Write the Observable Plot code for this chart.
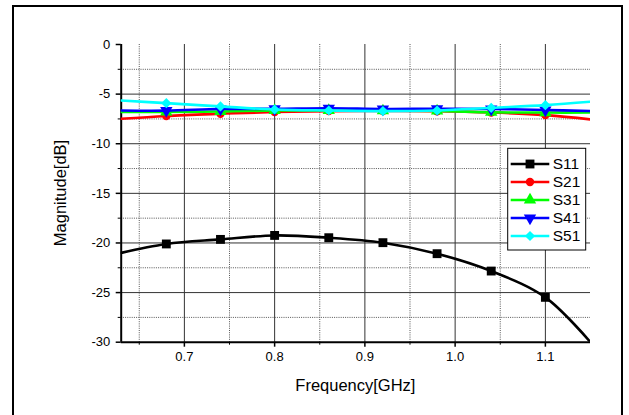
<!DOCTYPE html>
<html>
<head>
<meta charset="utf-8">
<script src="https://cdn.jsdelivr.net/npm/d3@7"></script>
<script src="https://cdn.jsdelivr.net/npm/@observablehq/plot@0.6"></script>
<style>
  html, body { margin: 0; padding: 0; background: #fff; }
  body { width: 629px; height: 415px; overflow: hidden; position: relative; font-family: "Liberation Sans", Arial, sans-serif; }
  #chart { position: absolute; left: 0; top: 0; }
  #frame { position: absolute; left: 12px; top: 5px; width: 611px; height: 420px; border: 2px solid #000; box-sizing: border-box; pointer-events: none; }
  #overlay { position: absolute; left: 0; top: 0; pointer-events: none; }
</style>
</head>
<body>
<div id="chart"></div>
<svg id="overlay" width="629" height="415"></svg>
<div id="frame"></div>
<script>
// ---- data ----
const seriesNames = ["S11", "S21", "S31", "S41", "S51"];
const seriesColors = ["#000000", "#ff0000", "#00ff00", "#0000ff", "#00ffff"];
const markerFreqs = [0.68, 0.74, 0.80, 0.86, 0.92, 0.98, 1.04, 1.10];
const lineFreqs = [0.63, 0.68, 0.74, 0.80, 0.86, 0.92, 0.98, 1.04, 1.10, 1.15];
const S11 = [-21.0, -20.1, -19.64, -19.24, -19.47, -19.97, -21.08, -22.83, -25.48, -30.0];
const S21 = [-7.49, -7.2, -6.98, -6.8, -6.71, -6.7, -6.72, -6.85, -7.12, -7.55];
const S31 = [-6.8, -6.8, -6.75, -6.65, -6.65, -6.68, -6.7, -6.83, -6.86, -6.86];
const S41 = [-6.65, -6.66, -6.5, -6.48, -6.42, -6.5, -6.48, -6.5, -6.6, -6.7];
const S51 = [-5.64, -5.91, -6.24, -6.55, -6.65, -6.71, -6.65, -6.38, -6.11, -5.77];
const xDomain = [0.63, 1.15];
const yDomain = [-30, 0];
const majorX = [0.7, 0.8, 0.9, 1.0, 1.1];
const minorX = [0.65, 0.75, 0.85, 0.95, 1.05];
const majorY = [0, -5, -10, -15, -20, -25, -30];
const majorYGrid = [-5, -10, -15, -20, -25];
const minorY = [-2.5, -7.5, -12.5, -17.5, -22.5, -27.5];
const xTitle = "Frequency[GHz]";
const yTitle = "Magnitude[dB]";

// ---- build table ----
const seriesVals = [S11, S21, S31, S41, S51];
const rows = [];
seriesNames.forEach((name, i) => {
  lineFreqs.forEach((f, j) => rows.push({series: name, f, v: seriesVals[i][j]}));
});
const isMarker = d => markerFreqs.some(m => Math.abs(m - d.f) < 1e-9);
const symbols = {S11: "square", S21: "circle", S31: "triangle", S41: "triangle", S51: "diamond2"};
const radii = {S11: 5.0, S21: 4.2, S31: 4.6, S41: 4.6, S51: 4.6};
const rotations = {S11: 0, S21: 0, S31: 0, S41: 180, S51: 0};

const marks = [
  Plot.ruleX(minorX, {stroke: "#555", strokeDasharray: "1,1.2", strokeWidth: 1}),
  Plot.ruleY(minorY, {stroke: "#555", strokeDasharray: "1,1.2", strokeWidth: 1}),
  Plot.ruleX(majorX, {stroke: "#333", strokeWidth: 1}),
  Plot.ruleY(majorYGrid, {stroke: "#333", strokeWidth: 1}),
  Plot.axisX(majorX, {tickSize: 5, tickPadding: 5, tickFormat: d3.format(".1f"), label: null, fontSize: 13, strokeWidth: 1.5}),
  Plot.axisX(minorX, {tickSize: 3, tickFormat: () => "", label: null, strokeWidth: 1}),
  Plot.axisY(majorY, {tickSize: 5, tickPadding: 6, tickFormat: d => String(d), label: null, fontSize: 13, strokeWidth: 1.5}),
  Plot.axisY(minorY, {tickSize: 3, tickFormat: () => "", label: null, strokeWidth: 1}),
  Plot.ruleX([xDomain[0]], {stroke: "#000", strokeWidth: 2}),
  Plot.ruleY([yDomain[0]], {stroke: "#000", strokeWidth: 2})
];
seriesNames.forEach((name, i) => {
  const data = rows.filter(d => d.series === name);
  marks.push(Plot.line(data, {x: "f", y: "v", stroke: seriesColors[i], strokeWidth: 2.6, curve: "catmull-rom", clip: true}));
  marks.push(Plot.dot(data.filter(isMarker), {x: "f", y: "v", fill: seriesColors[i], stroke: "none",
    symbol: symbols[name], r: radii[name], rotate: rotations[name]}));
});

const chart = Plot.plot({
  width: 629, height: 415,
  marginLeft: 120.7, marginTop: 44, marginRight: 39, marginBottom: 73.3,
  x: {domain: xDomain, label: null},
  y: {domain: yDomain, label: null},
  style: {fontFamily: '"Liberation Sans", Arial, sans-serif', fontSize: "13px", background: "transparent", color: "#000"},
  marks
});
document.getElementById("chart").appendChild(chart);

// ---- titles and legend overlay ----
const ov = d3.select("#overlay");
const font = '"Liberation Sans", Arial, sans-serif';
ov.append("text").attr("x", 355.4).attr("y", 391).attr("text-anchor", "middle")
  .attr("font-family", font).attr("font-size", 16.5).attr("fill", "#000").text(xTitle);
ov.append("text").attr("transform", "translate(66,193) rotate(-90)").attr("text-anchor", "middle")
  .attr("font-family", font).attr("font-size", 16.5).attr("fill", "#000").text(yTitle);

const lg = ov.append("g").attr("transform", "translate(507.7,148.3)");
lg.append("rect").attr("x", 0).attr("y", 0).attr("width", 78).attr("height", 101.7)
  .attr("fill", "#fff").attr("stroke", "#000").attr("stroke-width", 1);
const d3sym = {square: d3.symbolSquare, circle: d3.symbolCircle, triangle: d3.symbolTriangle, diamond2: d3.symbolDiamond2};
seriesNames.forEach((name, i) => {
  const y = 15.7 + i * 18;
  lg.append("line").attr("x1", 3).attr("x2", 41.6).attr("y1", y).attr("y2", y)
    .attr("stroke", seriesColors[i]).attr("stroke-width", 2.6);
  const r = radii[name];
  lg.append("path").attr("d", d3.symbol(d3sym[symbols[name]], Math.PI * r * r)())
    .attr("transform", `translate(22.3,${y}) rotate(${rotations[name]})`).attr("fill", seriesColors[i]);
  lg.append("text").attr("x", 45).attr("y", y + 5.4).attr("font-family", font).attr("font-size", 15.5)
    .attr("fill", "#000").text(name);
});
</script>
</body>
</html>
